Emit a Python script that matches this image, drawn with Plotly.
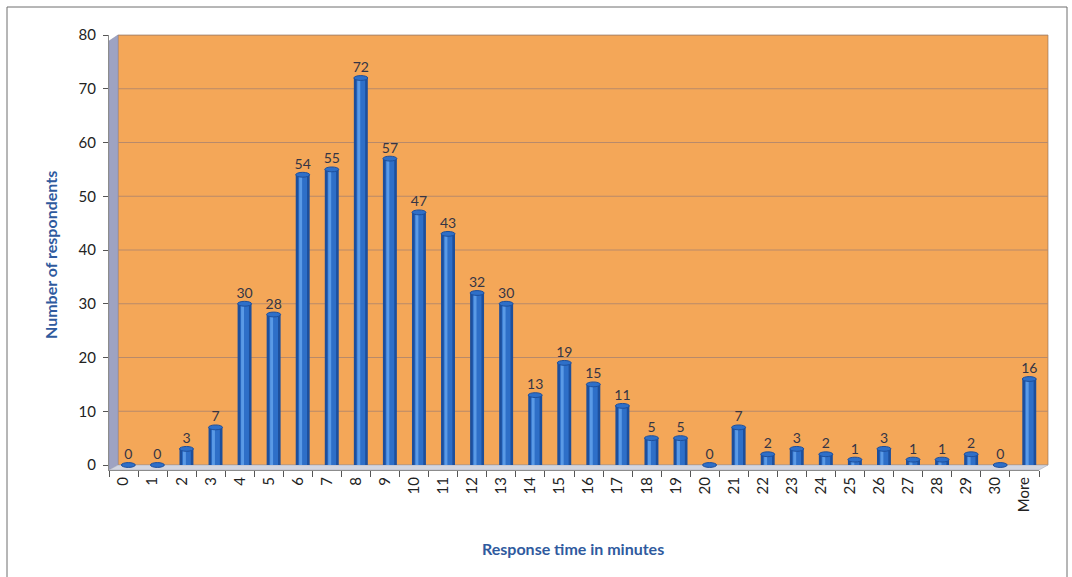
import plotly.graph_objects as go

# Histogram of response times
categories = [str(i) for i in range(31)] + ["More"]
respondents = [0, 0, 3, 7, 30, 28, 54, 55, 72, 57, 47, 43, 32, 30, 13, 19,
               15, 11, 5, 5, 0, 7, 2, 3, 2, 1, 3, 1, 1, 2, 0, 16]
y_ticks = list(range(0, 81, 10))

# plot-area geometry in pixels (used for the pseudo-3D walls)
L, R, T, B = 109, 1039, 35, 470
W, H = R - L, B - T
DX, DY = 9, 5  # depth offset of the back wall


def px(x):
    return (x - L) / W


def py(y):
    return (B - y) / H


FONT = "Lato, 'Open Sans', sans-serif"
BLUE_DARK = "#1d4f9c"
BLUE_MID = "#2e6fc8"
BLUE_LIGHT = "#5a9ae6"

fig = go.Figure()

# cylinder-like bars: dark body, medium core, light highlight
fig.add_trace(go.Bar(
    x=categories, y=respondents, width=0.48, offset=-0.075,
    marker=dict(color=BLUE_DARK, line=dict(width=0)),
    text=[str(v) for v in respondents], textposition="outside",
    constraintext="none",
    textfont=dict(family=FONT, size=14, color="#353545"),
    cliponaxis=False, hoverinfo="skip",
))
fig.add_trace(go.Bar(
    x=categories, y=respondents, width=0.3, offset=0.015,
    marker=dict(color=BLUE_MID, line=dict(width=0)), hoverinfo="skip",
))
fig.add_trace(go.Bar(
    x=categories, y=respondents, width=0.1, offset=0.045,
    marker=dict(color=BLUE_LIGHT, line=dict(width=0)), hoverinfo="skip",
))

shapes = []
# back wall
shapes.append(dict(type="rect", xref="paper", yref="paper", layer="below",
                   x0=px(L + DX), x1=px(R + DX), y0=py(B - DY), y1=py(T),
                   fillcolor="#f4a758", line=dict(color="#8a6a50", width=0.6)))
# gridlines on the back wall
for v in y_ticks[1:]:
    shapes.append(dict(type="line", xref="paper", yref="y", layer="below",
                       x0=px(L + DX), x1=px(R + DX), y0=v, y1=v,
                       line=dict(color="#b88a6a", width=1)))
# left side wall
shapes.append(dict(type="path", xref="paper", yref="paper", layer="below",
                   path=f"M {px(L)},{py(B)} L {px(L + DX)},{py(B - DY)} "
                        f"L {px(L + DX)},{py(T)} L {px(L)},{py(T + 6)} Z",
                   fillcolor="#9ea3c2", line=dict(color="#8a8fae", width=0.6)))
# floor
shapes.append(dict(type="path", xref="paper", yref="paper", layer="below",
                   path=f"M {px(L)},{py(B)} L {px(R)},{py(B)} "
                        f"L {px(R + DX)},{py(B - DY)} L {px(L + DX)},{py(B - DY)} Z",
                   fillcolor="#d3d6e0", line=dict(color="#a8acbc", width=0.6)))
# cylinder caps
for c, v in zip(categories, respondents):
    shapes.append(dict(type="circle", xref="x", yref="y", layer="above",
                       x0=c, x1=c, x0shift=-0.075, x1shift=0.405,
                       y0=v - 0.45, y1=v + 0.45,
                       fillcolor=BLUE_MID, line=dict(color=BLUE_DARK, width=1)))
# outer frame
shapes.append(dict(type="rect", xref="paper", yref="paper",
                   x0=px(7), x1=px(1067), y0=py(620), y1=py(7),
                   line=dict(color="#6e6e6e", width=1)))

annotations = [
    dict(text="<b>Number of respondents</b>", xref="paper", yref="paper",
         x=px(50), y=py(255), textangle=-90, showarrow=False,
         xanchor="center", yanchor="middle",
         font=dict(family=FONT, size=16, color="#2f5a9e")),
    dict(text="<b>Response time in minutes</b>", xref="paper", yref="paper",
         x=px(573), y=py(548), showarrow=False,
         xanchor="center", yanchor="middle",
         font=dict(family=FONT, size=16, color="#2f5a9e")),
]

fig.update_layout(
    width=1072, height=577,
    margin=dict(l=L, r=1072 - R, t=T, b=577 - B),
    paper_bgcolor="white", plot_bgcolor="rgba(0,0,0,0)",
    barmode="overlay", showlegend=False,
    shapes=shapes, annotations=annotations,
    font=dict(family=FONT, size=15, color="#222222"),
)
fig.update_xaxes(
    type="category", range=[-0.5, len(categories) - 0.5],
    showline=True, linecolor="#8c8c8c", linewidth=1,
    ticks="outside", ticklen=6, tickcolor="#555555", tickson="boundaries",
    tickangle=-90, ticklabelstandoff=0, showgrid=False,
    tickfont=dict(family=FONT, size=15, color="#222222"),
)
fig.update_yaxes(
    range=[-0.93, 80], tickvals=y_ticks,
    showline=True, linecolor="#8c8c8c", linewidth=1,
    ticks="outside", ticklen=5, tickcolor="#555555",
    showgrid=False, zeroline=False, ticklabelstandoff=4,
    tickfont=dict(family=FONT, size=15, color="#222222"),
)

fig.write_html("out.html")
